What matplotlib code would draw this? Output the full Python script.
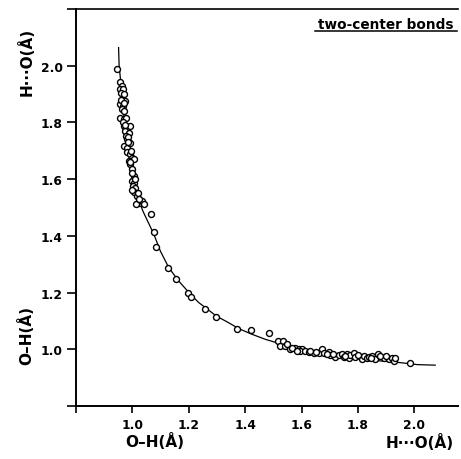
import numpy as np
import matplotlib
matplotlib.use('Agg')
import matplotlib.pyplot as plt

# O-H distance (x) and H...O distance (y), in Angstrom
oh = [0.947, 0.957, 0.963, 0.955, 0.967, 0.960, 0.969, 0.957, 0.975, 0.967,
      0.963, 0.972, 0.957, 0.969, 0.979, 0.969, 0.981, 0.990, 0.973, 0.987,
      0.979, 0.981, 0.972, 0.981, 0.990, 0.981, 0.993, 0.999, 0.987, 1.005,
      0.993, 0.999, 1.005, 0.999, 1.007, 1.002, 1.011, 1.005, 1.017, 1.022,
      1.014, 1.034, 1.040, 1.067, 1.078, 1.085, 1.125, 1.155, 1.196, 1.209,
      0.965, 0.975, 0.985, 0.995, 0.990, 1.000, 1.010, 1.000, 1.020, 0.960,
      0.970, 0.985, 1.025,
      1.259, 1.298, 1.371, 1.422, 1.483, 1.517, 1.533, 1.525, 1.540, 1.560,
      1.578, 1.590, 1.602, 1.596, 1.613, 1.625, 1.643, 1.661, 1.673, 1.678,
      1.696, 1.702, 1.720, 1.732, 1.744, 1.749, 1.761, 1.767, 1.773, 1.785,
      1.791, 1.815, 1.820, 1.832, 1.838, 1.850, 1.862, 1.873, 1.891, 1.909,
      1.921, 1.927, 1.986,
      1.550, 1.565, 1.585, 1.630, 1.650, 1.690, 1.710, 1.755, 1.800, 1.845,
      1.880, 1.900, 1.930]
ho = [1.988, 1.942, 1.929, 1.917, 1.917, 1.905, 1.899, 1.864, 1.876, 1.858,
      1.847, 1.841, 1.817, 1.811, 1.817, 1.788, 1.782, 1.786, 1.770, 1.764,
      1.752, 1.741, 1.717, 1.711, 1.729, 1.694, 1.688, 1.676, 1.664, 1.670,
      1.653, 1.635, 1.611, 1.594, 1.588, 1.576, 1.570, 1.553, 1.541, 1.517,
      1.511, 1.523, 1.511, 1.476, 1.412, 1.361, 1.288, 1.247, 1.200, 1.184,
      1.800, 1.790, 1.750, 1.700, 1.660, 1.620, 1.600, 1.560, 1.550, 1.880,
      1.870, 1.730, 1.530,
      1.141, 1.114, 1.073, 1.067, 1.059, 1.029, 1.029, 1.012, 1.012, 1.000,
      1.006, 1.000, 1.000, 0.994, 0.994, 0.990, 0.988, 0.988, 1.002, 0.988,
      0.990, 0.979, 0.974, 0.979, 0.982, 0.974, 0.982, 0.971, 0.979, 0.988,
      0.974, 0.967, 0.976, 0.971, 0.974, 0.976, 0.967, 0.982, 0.971, 0.967,
      0.971, 0.959, 0.951,
      1.020, 1.005, 0.995, 0.995, 0.992, 0.985, 0.984, 0.978, 0.980, 0.968,
      0.975, 0.975, 0.968]

# fitted curve
curve_x = [0.951, 0.953, 0.963, 0.972, 0.985, 1.003, 1.025, 1.037, 1.076,
           1.099, 1.129, 1.164, 1.206, 1.235, 1.259, 1.298, 1.341, 1.377,
           1.424, 1.472, 1.519, 1.596, 1.655, 1.738, 1.809, 1.879, 1.950,
           2.010, 2.074]
curve_y = [2.064, 2.000, 1.900, 1.800, 1.700, 1.600, 1.520, 1.488, 1.406,
           1.347, 1.288, 1.241, 1.194, 1.165, 1.147, 1.117, 1.094, 1.073,
           1.053, 1.035, 1.021, 0.998, 0.986, 0.974, 0.965, 0.959, 0.953,
           0.946, 0.944]

xticks = [0.8, 1.0, 1.2, 1.4, 1.6, 1.8, 2.0]
xticklabels = ['', '1.0', '1.2', '1.4', '1.6', '1.8', '2.0']
yticks = [0.8, 1.0, 1.2, 1.4, 1.6, 1.8, 2.0, 2.2]
yticklabels = ['', '1.0', '1.2', '1.4', '1.6', '1.8', '2.0', '']

plt.rcParams['font.family'] = ['DejaVu Sans']
plt.rcParams['font.weight'] = 'bold'

fig = plt.figure(figsize=(4.61, 4.60), dpi=100)
ax = fig.add_axes([76 / 461, 53 / 460, 382 / 461, 397 / 460])
ax.set_xlim((0.8, 2.155))
ax.set_ylim((0.8, 2.2))

ax.plot(curve_x, curve_y, color='black', linewidth=0.9, zorder=2)
ax.plot(oh, ho, linestyle='none', marker='o', markersize=4.3,
        markerfacecolor='white', markeredgecolor='black',
        markeredgewidth=1.0, zorder=3)

ax.spines['right'].set_visible(False)
for s in ('left', 'top', 'bottom'):
    ax.spines[s].set_linewidth(1.4)
ax.spines['top'].set_linewidth(1.2)

ax.set_xticks(xticks)
ax.set_xticklabels(xticklabels)
ax.set_yticks(yticks)
ax.set_yticklabels(yticklabels)
ax.tick_params(axis='x', direction='out', length=5, width=1.2, pad=4,
               labelsize=8.8, top=False)
ax.tick_params(axis='y', direction='out', length=6.5, width=1.2, pad=3,
               labelsize=8.8, right=False)
for lab in ax.get_xticklabels() + ax.get_yticklabels():
    lab.set_fontweight('bold')

# axis labels, two on each axis
lab_kw = dict(fontsize=11, fontweight='bold', ha='center', va='center')
fig.text(155 / 461, 1 - 442 / 460, 'O\u2013H(\u00c5)', **lab_kw)
fig.text(420 / 461, 1 - 443 / 460, 'H\u00b7\u00b7\u00b7O(\u00c5)', **lab_kw)
fig.text(26 / 461, 1 - 62 / 460, 'H\u00b7\u00b7\u00b7O(\u00c5)', rotation=90, **lab_kw)
fig.text(26 / 461, 1 - 336 / 460, 'O\u2013H(\u00c5)', rotation=90, **lab_kw)

# underlined caption
fig.text(386 / 461, 1 - 25 / 460, 'two-center bonds', fontsize=9.8,
         fontweight='bold', ha='center', va='center')
fig.add_artist(plt.Line2D([315 / 461, 457 / 461], [1 - 32 / 460, 1 - 32 / 460],
                          color='black', linewidth=1.1))

fig.savefig('out.png', dpi=100)
plt.close(fig)
